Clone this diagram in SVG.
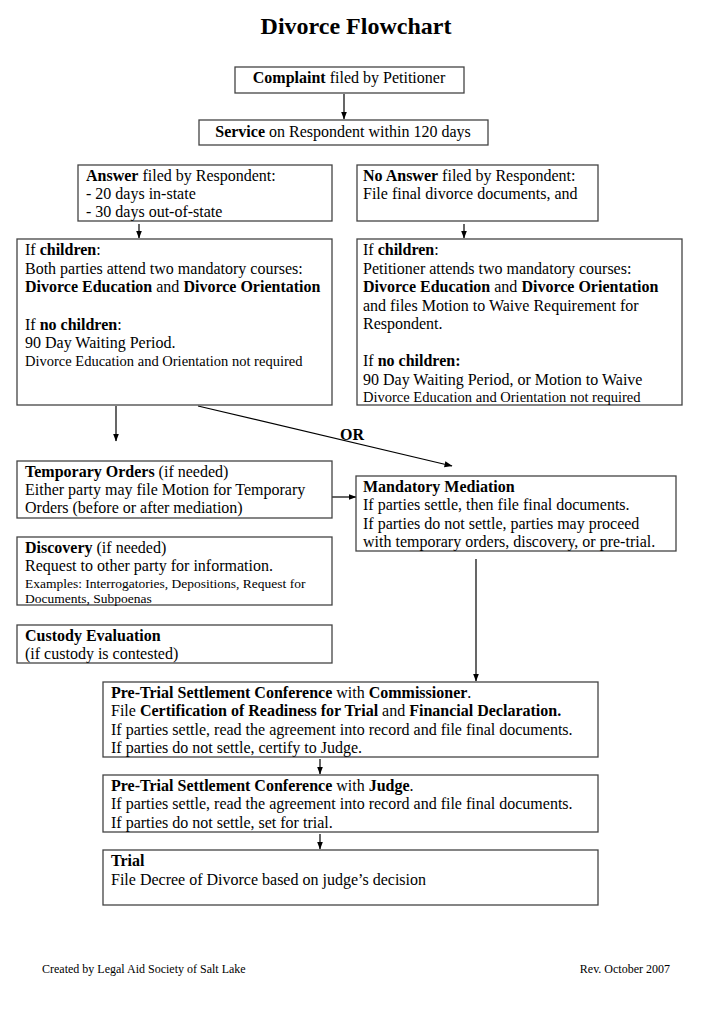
<svg xmlns="http://www.w3.org/2000/svg" width="702" height="1024" viewBox="0 0 702 1024">
<style>
  text { font-family: "Liberation Serif", "Times New Roman", serif; font-size: 16px; fill: #000; }
  .b { font-weight: bold; }
  .sm { font-size: 14.5px; }
  .xs { font-size: 13.5px; }
  .title { font-size: 24px; font-weight: bold; }
  .foot { font-size: 12px; }
  .box { fill: #fff; stroke: #444; stroke-width: 1.3; }
  .conn { stroke: #000; stroke-width: 1.2; fill: none; }
</style>
<defs>
  <marker id="ah" markerUnits="userSpaceOnUse" markerWidth="8" markerHeight="8" viewBox="0 0 8 8" refX="7.5" refY="4" orient="auto">
    <path d="M0,1 L8,4 L0,7 Z" fill="#000"/>
  </marker>
</defs>
<rect width="702" height="1024" fill="#fff"/>

<text class="title" x="356" y="34" text-anchor="middle">Divorce Flowchart</text>

<g id="connectors">
  <line class="conn" x1="344" y1="94" x2="344" y2="119" marker-end="url(#ah)"/>
  <line class="conn" x1="139" y1="224" x2="139" y2="238" marker-end="url(#ah)"/>
  <line class="conn" x1="464" y1="224" x2="464" y2="238" marker-end="url(#ah)"/>
  <line class="conn" x1="116" y1="406" x2="116" y2="441" marker-end="url(#ah)"/>
  <line class="conn" x1="198" y1="406" x2="452" y2="466" marker-end="url(#ah)"/>
  <text class="b" x="340" y="440">OR</text>
  <line class="conn" x1="332" y1="497" x2="356" y2="497" marker-end="url(#ah)"/>
  <line class="conn" x1="476" y1="559" x2="476" y2="681" marker-end="url(#ah)"/>
  <line class="conn" x1="320" y1="759" x2="320" y2="774" marker-end="url(#ah)"/>
  <line class="conn" x1="320" y1="834" x2="320" y2="849" marker-end="url(#ah)"/>
</g>

<g id="complaint">
  <rect class="box" x="235" y="67" width="229" height="26"/>
  <text x="349" y="83" text-anchor="middle"><tspan class="b">Complaint</tspan> filed by Petitioner</text>
</g>

<g id="service">
  <rect class="box" x="199" y="120" width="289" height="25"/>
  <text x="343" y="137" text-anchor="middle"><tspan class="b">Service</tspan> on Respondent within 120 days</text>
</g>

<g id="answer">
  <rect class="box" x="78" y="165" width="254" height="56"/>
  <text x="86" y="181"><tspan class="b">Answer</tspan> filed by Respondent:</text>
  <text x="86" y="199">- 20 days in-state</text>
  <text x="86" y="217">- 30 days out-of-state</text>
</g>

<g id="no-answer">
  <rect class="box" x="357" y="165" width="241" height="56"/>
  <text x="363" y="181"><tspan class="b">No Answer</tspan> filed by Respondent:</text>
  <text x="363" y="199">File final divorce documents, and</text>
</g>

<g id="children-left">
  <rect class="box" x="17" y="239" width="315" height="166"/>
  <text x="25" y="255">If <tspan class="b">children</tspan>:</text>
  <text x="25" y="274">Both parties attend two mandatory courses:</text>
  <text x="25" y="292"><tspan class="b">Divorce Education</tspan> and <tspan class="b">Divorce Orientation</tspan></text>
  <text x="25" y="330">If <tspan class="b">no children</tspan>:</text>
  <text x="25" y="348">90 Day Waiting Period.</text>
  <text class="sm" x="25" y="366">Divorce Education and Orientation not required</text>
</g>

<g id="children-right">
  <rect class="box" x="357" y="239" width="325" height="166"/>
  <text x="363" y="255">If <tspan class="b">children</tspan>:</text>
  <text x="363" y="274">Petitioner attends two mandatory courses:</text>
  <text x="363" y="292"><tspan class="b">Divorce Education</tspan> and <tspan class="b">Divorce Orientation</tspan></text>
  <text x="363" y="311">and files Motion to Waive Requirement for</text>
  <text x="363" y="329">Respondent.</text>
  <text x="363" y="366">If <tspan class="b">no children:</tspan></text>
  <text x="363" y="385">90 Day Waiting Period, or Motion to Waive</text>
  <text class="sm" x="363" y="402">Divorce Education and Orientation not required</text>
</g>

<g id="temporary-orders">
  <rect class="box" x="17" y="461" width="315" height="57"/>
  <text x="25" y="477"><tspan class="b">Temporary Orders</tspan> (if needed)</text>
  <text x="25" y="495">Either party may file Motion for Temporary</text>
  <text x="25" y="513">Orders (before or after mediation)</text>
</g>

<g id="mediation">
  <rect class="box" x="356" y="476" width="320" height="75"/>
  <text class="b" x="363" y="492">Mandatory Mediation</text>
  <text x="363" y="510">If parties settle, then file final documents.</text>
  <text x="363" y="529">If parties do not settle, parties may proceed</text>
  <text x="363" y="547">with temporary orders, discovery, or pre-trial.</text>
</g>

<g id="discovery">
  <rect class="box" x="17" y="537" width="315" height="68"/>
  <text x="25" y="553"><tspan class="b">Discovery</tspan> (if needed)</text>
  <text x="25" y="571">Request to other party for information.</text>
  <text class="xs" x="25" y="588">Examples: Interrogatories, Depositions, Request for</text>
  <text class="xs" x="25" y="603">Documents, Subpoenas</text>
</g>

<g id="custody">
  <rect class="box" x="17" y="625" width="315" height="38"/>
  <text class="b" x="25" y="641">Custody Evaluation</text>
  <text x="25" y="659">(if custody is contested)</text>
</g>

<g id="pretrial-commissioner">
  <rect class="box" x="103" y="682" width="495" height="75"/>
  <text x="111" y="698"><tspan class="b">Pre-Trial Settlement Conference</tspan> with <tspan class="b">Commissioner</tspan>.</text>
  <text x="111" y="716">File <tspan class="b">Certification of Readiness for Trial</tspan> and <tspan class="b">Financial Declaration.</tspan></text>
  <text x="111" y="735">If parties settle, read the agreement into record and file final documents.</text>
  <text x="111" y="753">If parties do not settle, certify to Judge.</text>
</g>

<g id="pretrial-judge">
  <rect class="box" x="103" y="775" width="495" height="57"/>
  <text x="111" y="791"><tspan class="b">Pre-Trial Settlement Conference</tspan> with <tspan class="b">Judge</tspan>.</text>
  <text x="111" y="809">If parties settle, read the agreement into record and file final documents.</text>
  <text x="111" y="828">If parties do not settle, set for trial.</text>
</g>

<g id="trial">
  <rect class="box" x="103" y="850" width="495" height="55"/>
  <text class="b" x="111" y="866">Trial</text>
  <text x="111" y="885">File Decree of Divorce based on judge’s decision</text>
</g>

<text class="foot" x="42" y="973">Created by Legal Aid Society of Salt Lake</text>
<text class="foot" x="670" y="973" text-anchor="end">Rev. October 2007</text>
</svg>
